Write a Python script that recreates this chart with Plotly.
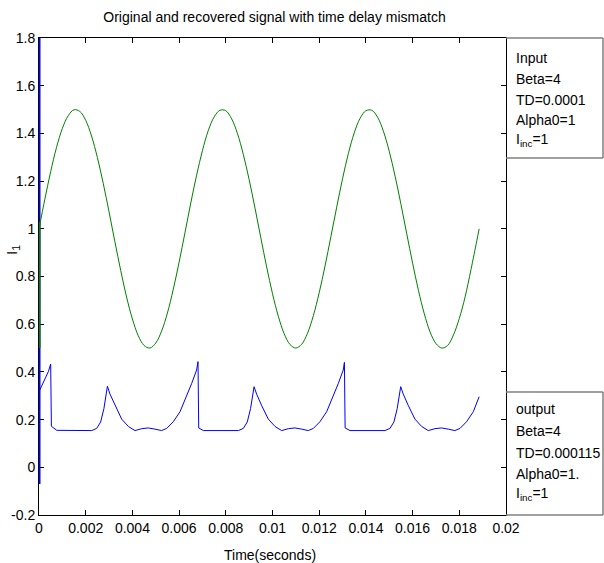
import plotly.graph_objects as go

# ---------------- data ----------------
in_t = [0.00000, 0.00025, 0.00050, 0.00075, 0.00100, 0.00125, 0.00150, 0.00175,
        0.00200, 0.00225, 0.00250, 0.00275, 0.00300, 0.00325, 0.00350, 0.00375,
        0.00400, 0.00425, 0.00450, 0.00475, 0.00500, 0.00525, 0.00550, 0.00575,
        0.00600, 0.00625, 0.00650, 0.00675, 0.00700, 0.00725, 0.00750, 0.00775,
        0.00800, 0.00825, 0.00850, 0.00875, 0.00900, 0.00925, 0.00950, 0.00975,
        0.01000, 0.01025, 0.01050, 0.01075, 0.01100, 0.01125, 0.01150, 0.01175,
        0.01200, 0.01225, 0.01250, 0.01275, 0.01300, 0.01325, 0.01350, 0.01375,
        0.01400, 0.01425, 0.01450, 0.01475, 0.01500, 0.01525, 0.01550, 0.01575,
        0.01600, 0.01625, 0.01650, 0.01675, 0.01700, 0.01725, 0.01750, 0.01775,
        0.01800, 0.01825, 0.01850, 0.01875, 0.01885]
in_v = [1.000, 1.124, 1.240, 1.341, 1.421, 1.474, 1.499, 1.492,
        1.455, 1.389, 1.299, 1.191, 1.071, 0.946, 0.825, 0.714,
        0.622, 0.552, 0.511, 0.500, 0.521, 0.571, 0.647, 0.746,
        0.860, 0.983, 1.108, 1.225, 1.328, 1.412, 1.469, 1.497,
        1.495, 1.461, 1.399, 1.312, 1.206, 1.087, 0.962, 0.840,
        0.728, 0.633, 0.560, 0.515, 0.500, 0.516, 0.562, 0.636,
        0.732, 0.844, 0.967, 1.091, 1.210, 1.316, 1.402, 1.463,
        1.495, 1.497, 1.468, 1.409, 1.325, 1.221, 1.103, 0.979,
        0.856, 0.742, 0.644, 0.567, 0.519, 0.500, 0.511, 0.555,
        0.624, 0.715, 0.829, 0.950, 1.000]
in_start_t = [0, 0]
in_start_v = [0.50, 1.03]

out_start_t = [0, 0]
out_start_v = [1.9, -0.07]
out_t = [0, 0.00019, 0.00040, 0.00050,
         0.00053, 0.00076, 0.00226, 0.00247, 0.00264, 0.00278, 0.00293, 0.00304,
         0.00326, 0.00354, 0.00383, 0.00411, 0.00440, 0.00468, 0.00497, 0.00525,
         0.00547, 0.00575, 0.00604, 0.00632, 0.00654, 0.00675, 0.00681,
         0.00684, 0.00704, 0.00854, 0.00875, 0.00892, 0.00906, 0.00921, 0.00932,
         0.00954, 0.00982, 0.01011, 0.01039, 0.01068, 0.01096, 0.01125, 0.01153,
         0.01175, 0.01203, 0.01232, 0.01260, 0.01282, 0.01303, 0.01308,
         0.01311, 0.01332, 0.01482, 0.01503, 0.01520, 0.01534, 0.01549, 0.01560,
         0.01582, 0.01610, 0.01639, 0.01667, 0.01696, 0.01724, 0.01753, 0.01781,
         0.01803, 0.01831, 0.01860, 0.01885]
out_v = [0.317, 0.359, 0.401, 0.433,
         0.172, 0.155, 0.154, 0.163, 0.190, 0.246, 0.340, 0.307,
         0.258, 0.202, 0.171, 0.154, 0.162, 0.165, 0.160, 0.154,
         0.163, 0.191, 0.233, 0.296, 0.352, 0.408, 0.443,
         0.165, 0.154, 0.154, 0.163, 0.190, 0.246, 0.338, 0.307,
         0.258, 0.202, 0.171, 0.154, 0.162, 0.165, 0.160, 0.154,
         0.163, 0.191, 0.233, 0.296, 0.352, 0.408, 0.440,
         0.165, 0.154, 0.154, 0.163, 0.190, 0.246, 0.338, 0.307,
         0.258, 0.202, 0.171, 0.154, 0.162, 0.165, 0.160, 0.154,
         0.163, 0.191, 0.233, 0.296]

x_tickvals = [0, 0.002, 0.004, 0.006, 0.008, 0.01, 0.012, 0.014, 0.016, 0.018, 0.02]
x_ticktext = ["0", "0.002", "0.004", "0.006", "0.008", "0.01", "0.012", "0.014", "0.016", "0.018", "0.02"]
y_tickvals = [-0.2, 0, 0.2, 0.4, 0.6, 0.8, 1, 1.2, 1.4, 1.6, 1.8]
y_ticktext = ["-0.2", "0", "0.2", "0.4", "0.6", "0.8", "1", "1.2", "1.4", "1.6", "1.8"]

title_text = "Original and recovered signal with time delay mismatch"
x_title = "Time(seconds)"
y_title = "I<sub>1</sub>"
input_lines = ["Input", "Beta=4", "TD=0.0001", "Alpha0=1", "I<sub>inc</sub>=1"]
output_lines = ["output", "Beta=4", "TD=0.000115", "Alpha0=1.", "I<sub>inc</sub>=1"]

# ---------------- figure ----------------
W, H = 604, 563
L, R, T, B = 39, 506, 38, 515   # plot area in pixels
FONT = "Liberation Sans, Arial, sans-serif"

def px_x(p):
    return (p - L) / (R - L)

def px_y(p):
    return (B - p) / (B - T)

fig = go.Figure()
fig.add_trace(go.Scatter(x=out_start_t, y=out_start_v, mode="lines",
                         line=dict(color="#0000ff", width=3), showlegend=False))
fig.add_trace(go.Scatter(x=out_t, y=out_v, mode="lines",
                         line=dict(color="#0000ff", width=1), showlegend=False))
fig.add_trace(go.Scatter(x=in_start_t, y=in_start_v, mode="lines",
                         line=dict(color="#008000", width=3), showlegend=False))
fig.add_trace(go.Scatter(x=in_t, y=in_v, mode="lines",
                         line=dict(color="#008000", width=1, shape="spline"),
                         showlegend=False))

axis_common = dict(showline=True, linecolor="black", linewidth=1, mirror="ticks",
                   ticks="inside", ticklen=5, tickwidth=1, tickcolor="black",
                   showgrid=False, zeroline=False, layer="below traces",
                   automargin=False,
                   tickfont=dict(family=FONT, size=14, color="black"))

fig.update_xaxes(range=[0, 0.02], tickvals=x_tickvals, ticktext=x_ticktext,
                 **axis_common)
fig.update_yaxes(range=[-0.2, 1.8], tickvals=y_tickvals, ticktext=y_ticktext,
                 **axis_common)

shapes = []
grey = "#808080"
box_right = px_x(603)
for (y0, y1) in [(T, 158), (392, B)]:
    shapes.append(dict(type="line", xref="paper", yref="paper",
                       x0=1, x1=box_right, y0=px_y(y0), y1=px_y(y0),
                       line=dict(color=grey, width=1.5)))
    shapes.append(dict(type="line", xref="paper", yref="paper",
                       x0=1, x1=box_right, y0=px_y(y1), y1=px_y(y1),
                       line=dict(color=grey, width=1.5)))
    shapes.append(dict(type="line", xref="paper", yref="paper",
                       x0=box_right, x1=box_right, y0=px_y(y0), y1=px_y(y1),
                       line=dict(color=grey, width=1.5)))

annotations = []
in_y = [58, 79, 100, 120, 140]
out_y = [409, 431, 453, 474, 494]
for txt, yy in zip(input_lines, in_y):
    annotations.append(dict(text=txt, xref="paper", yref="paper", x=px_x(514), y=px_y(yy),
                            xanchor="left", yanchor="middle", showarrow=False,
                            font=dict(family=FONT, size=14, color="black")))
for txt, yy in zip(output_lines, out_y):
    annotations.append(dict(text=txt, xref="paper", yref="paper", x=px_x(514), y=px_y(yy),
                            xanchor="left", yanchor="middle", showarrow=False,
                            font=dict(family=FONT, size=14, color="black")))
annotations.append(dict(text=y_title, xref="paper", yref="paper", x=px_x(12), y=px_y(250),
                        xanchor="center", yanchor="middle", textangle=-90, showarrow=False,
                        font=dict(family=FONT, size=15, color="black")))
annotations.append(dict(text=x_title, xref="paper", yref="paper", x=px_x(270), y=px_y(555),
                        xanchor="center", yanchor="middle", showarrow=False,
                        font=dict(family=FONT, size=14, color="black")))

fig.update_layout(
    width=W, height=H,
    margin=dict(l=L, r=W - R, t=T, b=H - B, pad=0),
    paper_bgcolor="white", plot_bgcolor="white",
    title=dict(text=title_text, x=px_x(274.5), xref="paper", xanchor="center",
               y=1 - 17.5 / H, yref="container", yanchor="middle",
               font=dict(family=FONT, size=14, color="black")),
    shapes=shapes, annotations=annotations,
    showlegend=False,
)

fig.write_html("out.html", config={"displayModeBar": False},
               post_script="document.body.style.margin='0';document.body.style.padding='0';")
